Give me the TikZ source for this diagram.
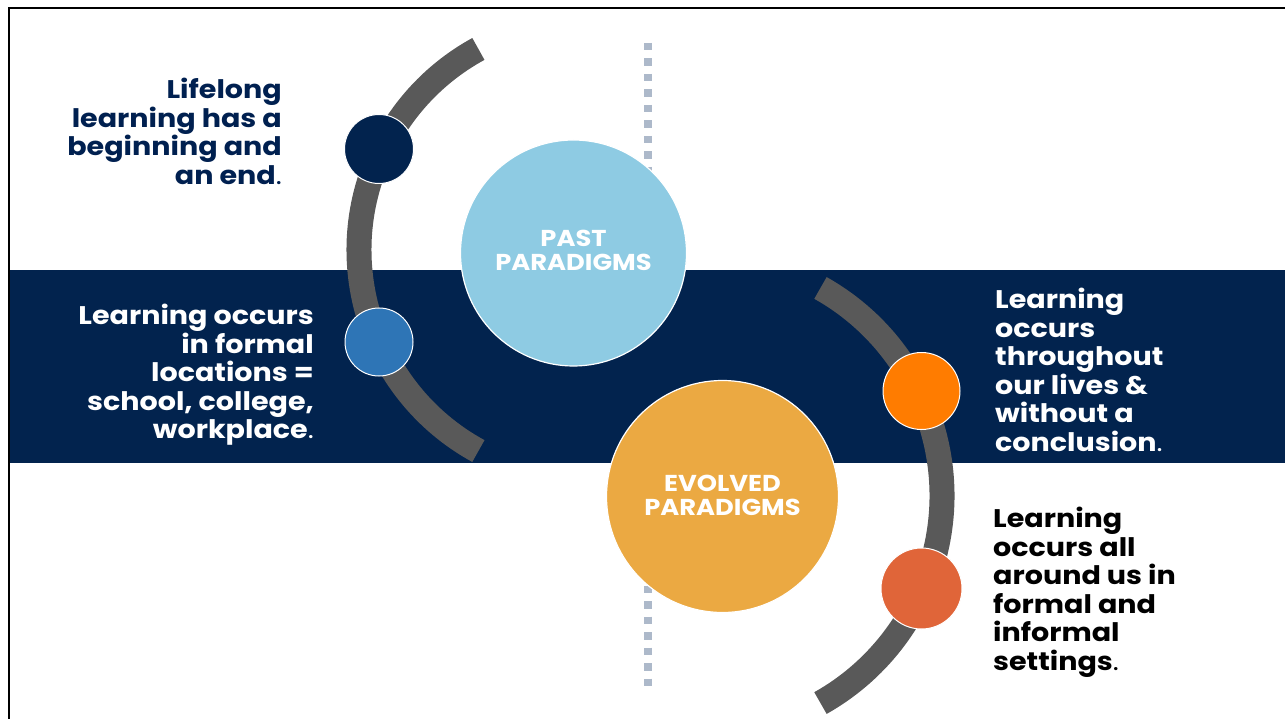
\documentclass[tikz,border=0pt]{standalone}
\usepackage{fontspec}
\setmainfont{Poppins}[BoldFont={* Bold}, FakeStretch=1.12]
\definecolor{navy}{RGB}{2,35,78}
\definecolor{navytext}{RGB}{0,32,80}
\definecolor{arcgrey}{RGB}{89,89,89}
\definecolor{dotgrey}{RGB}{173,185,202}
\definecolor{skyblue}{RGB}{142,203,227}
\definecolor{midblue}{RGB}{46,117,182}
\definecolor{gold}{RGB}{235,169,66}
\definecolor{brightorange}{RGB}{255,124,0}
\definecolor{burntorange}{RGB}{224,101,57}
\tikzset{
  bigdisc/.style={circle, draw=white, line width=1.2pt, inner sep=0pt, minimum size=#1},
  disclabel/.style={text=white, align=center, inner sep=0pt,
    font=\bfseries\fontsize{23}{24}\selectfont},
  dot/.style={circle, draw=white, line width=1pt, inner sep=0pt, minimum size=#1},
  timeline/.style={arcgrey, line width=25pt, line cap=butt},
  blurb/.style={inner sep=0pt, font=\bfseries\fontsize{25.5}{28.5}\selectfont},
}
\begin{document}
\begin{tikzpicture}[x=1pt,y=-1pt]
  \useasboundingbox (0,0) rectangle (1285,719);
  \fill[white] (0,0) rectangle (1285,719);
  % frame
  \draw[black, line width=2pt] (9,719) -- (9,8.5) -- (1285,8.5);

  % dotted centre line
  \draw[dotgrey, line width=8pt, dash pattern=on 7.5pt off 8pt] (648,43) -- (648,692);

  % band
  \fill[navy] (10,270) rectangle (1285,463);

  % left timeline
  \draw[timeline] (588,250) ++(118.6:229) arc[start angle=118.6, end angle=241.4, radius=229];
  % right timeline
  \draw[timeline] (704,495.5) ++(-60.7:238) arc[start angle=-60.7, end angle=60.7, radius=238];

  % paradigm discs
  \node[bigdisc=226pt, fill=skyblue] (past) at (573.5,253) {};
  \node[disclabel] (pastlabel) at ([yshift=3pt]past.center) {PAST\\PARADIGMS};
  \node[bigdisc=232pt, fill=gold] (evolved) at (722.5,496.5) {};
  \node[disclabel] (evolvedlabel) at ([yshift=1pt]evolved.center) {EVOLVED\\PARADIGMS};

  % timeline dots
  \node[dot=69pt, fill=navy] (d1) at (379,149) {};
  \node[dot=68pt, fill=midblue] (d2) at (379,342) {};
  \node[dot=77pt, fill=brightorange] (d3) at (921.5,391) {};
  \node[dot=81pt, fill=burntorange] (d4) at (921.5,588.5) {};

  % descriptions
  \node[blurb, text=navytext, align=right, anchor=north east] (t1) at (282,78)
    {Lifelong\\learning has a\\beginning and\\an end{\mdseries .}};
  \node[blurb, text=white, align=right, anchor=north east] (t2) at (314,304)
    {Learning occurs\\in formal\\locations =\\school, college,\\workplace{\mdseries .}};
  \node[blurb, text=white, align=left, anchor=north west] (t3) at (995,288)
    {Learning\\occurs\\throughout\\our lives \&\\without a\\conclusion{\mdseries .}};
  \node[blurb, text=black, align=left, anchor=north west] (t4) at (993,507)
    {Learning\\occurs all\\around us in\\formal and\\informal\\settings{\mdseries .}};
\end{tikzpicture}
\end{document}
